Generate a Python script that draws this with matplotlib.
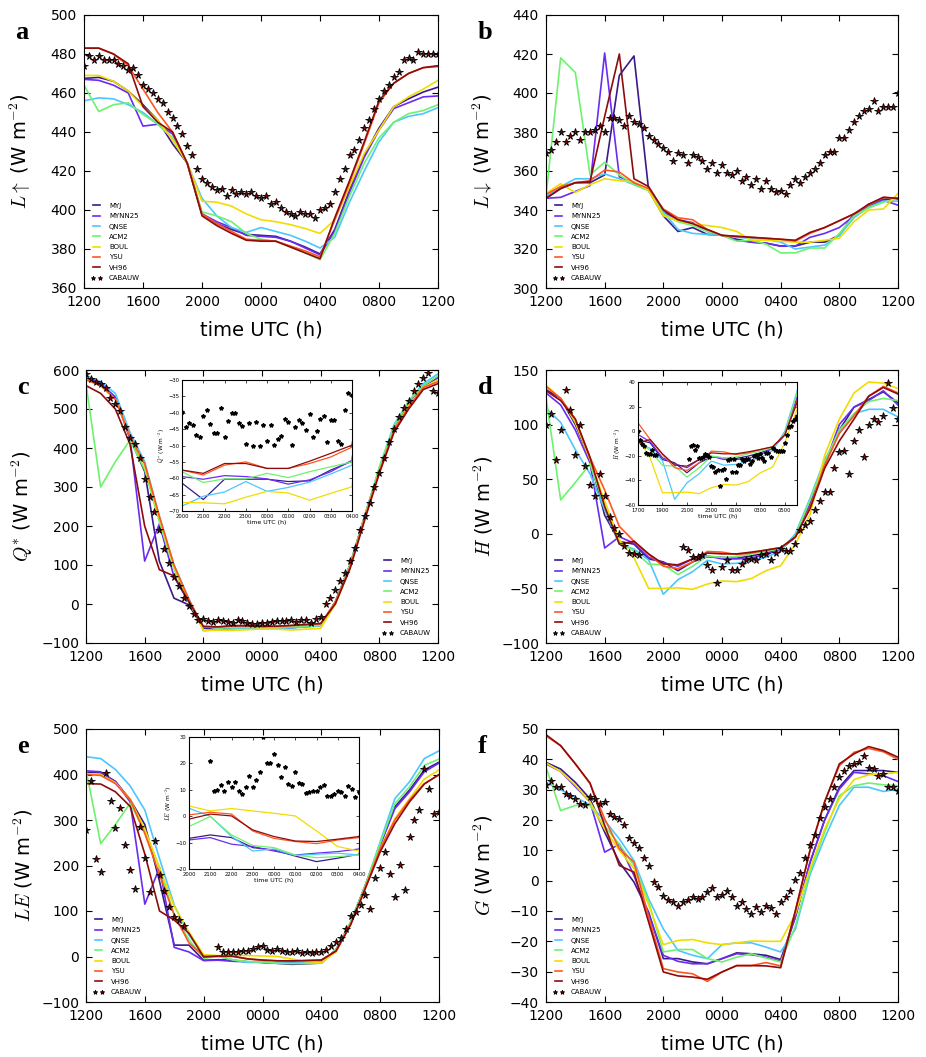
import numpy as np
import matplotlib
matplotlib.use('Agg')
import matplotlib.pyplot as plt

plt.rcParams['font.family'] = ['DejaVu Sans']
plt.rcParams['mathtext.fontset'] = 'cm'

nan = np.nan

models = ['MYJ', 'MYNN25', 'QNSE', 'ACM2', 'BOUL', 'YSU', 'VH96']
colors = ['#3a1a8a', '#6a2cf2', '#4cc6ff', '#6ef26e', '#f2dc00', '#ff5522', '#8c0c0c']

# hours since 1200 UTC; models hourly, obs every 20 min, insets every 10 min
t_model = np.arange(25)
t_obs = np.arange(73) / 3.0
t_in_cd = 8 + np.arange(49) / 6.0
t_in_d = 5 + np.arange(79) / 6.0

main_ticks = [0, 4, 8, 12, 16, 20, 24]
main_ticklabels = ['1200', '1600', '2000', '0000', '0400', '0800', '1200']

# ---- a: upward longwave
lup_myj = [467.5, 468, 466, 461, 454, 446, 434, 424, 398, 393, 390, 387.5, 387, 386.5, 384, 381, 377.5, 390, 410, 428, 442, 453, 457, 460.5, 463]
lup_mynn = [467, 466.5, 464, 460, 443, 444, 439, 424, 398, 394, 391, 387, 386.5, 386, 384, 380.5, 377, 389, 409, 427, 441, 452, 455, 458, 458.5]
lup_qnse = [456, 457.5, 457, 454, 450, 444, 437, 424, 406, 397, 391, 388.5, 391, 389, 387, 384, 380.5, 386, 404, 420, 435, 445, 448, 449.4, 452.5]
lup_acm2 = [464, 450.5, 454, 455, 449, 444, 437, 424, 399, 397, 394, 388, 385, 384, 381, 378, 374.5, 388, 407, 424, 437, 445, 449.4, 451, 454]
lup_boul = [469, 469, 466, 461, 453, 446, 436, 424, 404.5, 404, 402, 398, 395, 394, 392.5, 390.5, 388, 395, 412, 429, 441, 453, 458, 462, 466.5]
lup_ysu = [483, 483, 480, 474, 462, 450, 440, 424, 398, 393, 389, 385, 384.5, 384, 381.5, 379, 376, 395, 414, 434, 455, 465, 470, 473, 473.5]
lup_vh96 = [483, 483, 480, 475, 453, 445, 440, 424, 397, 392, 388, 384.5, 384, 384, 381, 378, 375, 396, 415, 435, 456, 465, 470, 473, 474]
lup_obs = [474, 479, 477, 479, 477, 477, 477, 475, 474, 472, 473, 469, 464, 462, 460, 457, 455, 450, 447, 443,
           439, 433, 428, 421, 416, 414, 412, 410, 411, 407, 410, 408, 409, 408, 409, 407, 406, 407, 403, 404,
           401, 399, 398, 397, 399, 398, 398, 396, 400, 401, 403, 409, 416, 421, 428, 431, 436, 442, 446, 452,
           457, 461, 464, 468, 471, 477, 478, 477, 481, 480, 480, 480, 480]

# ---- b: downward longwave
ldn_myj = [346, 351, 354, 354, 358, 409, 419, 350, 337, 329, 331, 327.5, 327, 325, 323.5, 323, 321.5, 321.5, 323.5, 323.5, 327, 338, 342, 345.5, 345.5]
ldn_mynn = [346, 346.5, 349.5, 352.5, 420.5, 357, 354, 350, 339, 335, 333.5, 329, 327, 324.5, 323.5, 323, 321.5, 321.5, 326, 328, 331, 337, 343, 345, 342.5]
ldn_qnse = [347, 352, 356, 356, 358.5, 356, 353, 350, 339, 330, 328, 327.5, 327, 326, 325.5, 325, 323.5, 320, 321, 322, 327, 336, 341.5, 344.5, 344.5]
ldn_acm2 = [347, 418, 410.5, 358, 364.5, 358, 353, 350, 338, 334, 332, 329, 327, 324, 324.5, 322.5, 318, 318, 320.5, 320.5, 328, 337, 341, 344, 346]
ldn_boul = [348.5, 353.5, 349, 353, 356, 355, 354.5, 350, 337, 334.5, 333, 332, 331, 329, 324.5, 324.5, 324, 323.5, 323.5, 324.5, 325.5, 334, 340, 340.5, 348.5]
ldn_ysu = [348, 352, 354, 355, 360.5, 359.5, 354, 351, 340.5, 336, 335, 330, 327, 326.5, 326, 325.5, 325, 324, 328, 331, 334.5, 338, 342.5, 346.5, 346]
ldn_vh96 = [346, 351, 354, 354.5, 388, 420, 356, 352, 340, 335, 333, 330, 327, 326.5, 326, 325.5, 325, 324.5, 328.5, 331, 334.5, 338, 343, 346.5, 346]
ldn_obs = [369, 371, 375, 380, 375, 378, 380, 376, 380, 380, 381, 383, 380, 387, 387, 386, 383, 388, 385, 384,
           382, 378, 376, 374, 372, 370, 365, 369, 368, 364, 368, 367, 365, 361, 364, 359, 363, 359, 358, 360,
           355, 357, 353, 356, 351, 355, 351, 349, 350, 348, 353, 356, 354, 357, 359, 361, 364, 368, 370, 370,
           377, 377, 381, 385, 388, 391, 392, 396, 391, 393, 393, 393, 400]

# ---- c: net radiation
qs_myj = [585, 565, 530, 425, 340, 110, 15, -2, -61.5, -66.5, -60.3, -60.3, -60.3, -61, -60.8, -57.5, -54.8, 5, 100, 225, 345, 450, 515, 560, 580]
qs_mynn = [580, 565, 530, 425, 110, 205, 70, 5, -59.5, -60.3, -59.2, -59.5, -60.2, -61.8, -60.5, -58, -54.5, 5, 100, 225, 345, 450, 515, 560, 580]
qs_qnse = [585, 570, 540, 440, 365, 225, 100, 15, -68.5, -65.5, -64.2, -61, -64, -62.8, -61.2, -58.7, -56, 5, 100, 225, 350, 460, 520, 565, 590]
qs_acm2 = [565, 300, 365, 420, 345, 210, 90, 5, -58, -61.3, -60.2, -60.2, -58.5, -59.8, -58, -56.5, -55, 5, 100, 225, 350, 455, 520, 560, 585]
qs_boul = [575, 560, 525, 430, 355, 220, 95, 10, -67.4, -67.5, -67.8, -65.8, -64, -64.5, -66.7, -64.6, -62.6, 0, 95, 220, 340, 445, 510, 555, 575]
qs_ysu = [575, 560, 525, 430, 360, 225, 100, 12, -57.5, -59, -56, -55, -57, -57, -55.5, -53.5, -50.5, 5, 95, 220, 340, 445, 505, 555, 570]
qs_vh96 = [560, 540, 500, 410, 200, 88, 72, 7, -57.5, -58.5, -55.5, -55.5, -57, -57, -54.8, -52.4, -49.9, 0, 90, 215, 335, 440, 500, 550, 565]
qs_obs = [590, 578, 570, 565, 555, 527, 512, 495, 455, 425, 410, 375, 320, 275, 235, 190, 140, 105, 70, 45, 15, -5, -25, -42,
          -39.7, -43.1, -46.9, -41.0, -43.3, -46.1, -47.5, -40.0, -43.2, -49.5, -50.1, -50.1, -48.5, -49.9, -47.2, -42.8,
          -44.3, -43.1, -40.5, -45.6, -41.1, -42.3, -48.7, -39.2, -34.5,
          0, 15, 37, 58, 80, 110, 144, 190, 225, 260, 300, 335, 375, 415, 450, 480, 503, 520, 545, 565, 580, 593, 546, 542]
qs_obs_inset = [-39.7, -44.3, -43.1, -43.8, -46.9, -47.5, -41.0, -39.3, -43.3, -46.3, -46.1, -38.7, -47.5, -42.6, -40.0,
                -40.0, -43.2, -44.1, -49.5, -43.1, -50.1, -42.9, -50.1, -43.7, -48.5, -43.7, -49.9, -47.9, -47.2, -41.8,
                -42.8, -49.8, -44.3, -42.3, -43.1, -45.3, -40.5, -47.4, -45.6, -41.8, -41.1, -48.9, -42.3, -42.3, -48.7,
                -49.4, -39.2, -33.9, -34.5]

# ---- d: sensible heat flux
h_myj = [132, 124, 100, 68, 17, -7, -9.5, -23, -25.7, -33.8, -25.7, -21, -21.6, -22.2, -20.3, -17.6, -14, -3, 25.7, 63, 95, 116, 123, 130, 120]
h_mynn = [129, 118, 95, 65, -13, -2.7, -8.6, -21.6, -26.5, -29.7, -23, -20.3, -23, -23, -22.2, -19, -14, -3, 27.6, 63, 100, 116, 122, 131, 118]
h_qnse = [115, 102, 77, 55, 22, -9.5, -14, -24, -55.4, -42, -34.6, -24.3, -27.6, -27, -24.3, -21.6, -15.7, 0, 32.4, 68, 92, 110, 114, 114, 107]
h_acm2 = [125, 31, 47, 64, 25, -8, -15.7, -27.8, -28.4, -37.3, -29.7, -20.3, -21.6, -21, -18.4, -16.2, -13.5, -2, 31, 66, 95, 110, 121, 124, 122]
h_boul = [136, 124, 102, 68, 30, -5.4, -22, -50, -50, -49.5, -50.8, -46, -43.2, -43.8, -41, -33.8, -29.2, -9.5, 17.6, 72, 105, 129, 139, 138, 133]
h_ysu = [135, 124, 105, 70, 40, 6.8, -6.8, -19, -29.7, -31.9, -25.7, -16.2, -16.8, -19, -17.6, -14.9, -12.7, -3, 24.3, 63, 92, 108, 126, 135, 129]
h_vh96 = [131, 122, 105, 70, 25, -9.5, -6.8, -18.4, -27.6, -28.4, -23, -17.6, -18.4, -18.4, -16.8, -14.9, -12.7, -3, 23, 60, 85, 105, 126, 134, 128]
h_obs = [100, 110, 68, 95, 132, 113, 72, 100, 62, 45, 35, 55, 35, 15, 5,
         0, -10.8, -17.6, -18.4, -19,
         nan, nan, nan, nan, nan, nan, nan, nan,
         -12.2, -14.9, -21.6, -20.8, -19.5, -28.4, -33, -44.6, -30.5, -23.8, -33, -33.2, -27.6, -24.3, -23,
         -24.3, -19, -18.4, -24.3, -17.6, -13.5,
         -16.2, -15.7, -9.5, 3.2, 8, 12, 22, 30, 38, 38, 60, 75, 76, 55, 85, 95, 70, 100, 105, 102, 108, 138, 115, 105]
h_obs_inset = [0, -6.8, -10.8, -12.2, -17.6, -18.4, -18.4, -14.9, -19, -19,
               nan, nan, nan, nan, nan, nan, nan, nan, nan, nan, nan, nan, nan, nan, nan,
               -22.2, -12.2, -11.6, -14.9, -12.2, -21.6, -21.6, -20.8, -18.4, -19.5, -21, -28.4, -29, -33, -31.4,
               -44.6, -31.4, -30.5, -39.2, -23.8, -23, -33, -23, -33.2, -27.8, -27.6, -23, -24.3, -22.7, -23,
               -26.5, -24.3, -20.3, -19, -21.6, -18.4, -21.6, -24.3, -17.6, -17.6, -21, -13.5, -15.4, -16.2, -15.7,
               -15.7, -15.7, -9.5, -3.2, 3.2, 4, 8, 10.3, 12]

# ---- e: latent heat flux
le_myj = [405, 404, 385, 345, 290, 165, 25, 25, -8.4, -7.1, -8.1, -11.9, -12.8, -15.1, -17.2, -15.9, -14.4, 15, 75, 157, 245, 329, 366, 410, 427]
le_mynn = [408, 406, 384, 340, 115, 195, 20, 10, -9, -8.1, -10.6, -11.5, -13.2, -14.7, -14, -13.4, -12.4, 15, 75, 157, 245, 325, 362, 406, 425]
le_qnse = [439, 435, 411, 375, 322, 215, 113, 47, 3, 0, -7.7, -13.2, -12.4, -14.9, -14.4, -14, -14.7, 14, 76, 157, 252, 347, 384, 435, 452]
le_acm2 = [410, 248, 290, 337, 275, 195, 91, 37, -3.9, -0.1, -7.1, -11.1, -11.9, -14.7, -15.7, -15.3, -14.7, 15, 76, 157, 248, 336, 373, 420, 434]
le_boul = [402, 400, 382, 345, 280, 195, 110, 54, 3.9, 2, 2.9, 2, 1.1, 0.1, -5.6, -11.5, -13.2, 10, 72, 153, 237, 303, 347, 390, 410]
le_ysu = [400, 398, 380, 345, 270, 180, 91, 30, 0.5, 1.5, 0.8, -5.6, -8.4, -9.6, -10.4, -9, -8.1, 12, 72, 153, 237, 300, 344, 380, 399]
le_vh96 = [380, 379, 362, 330, 225, 100, 80, 51, -1.1, 0.8, 0.1, -5.2, -7.7, -9.4, -9.6, -8.7, -7.7, 12, 70, 150, 230, 292, 340, 379, 400]
le_obs = [278, 386, 214, 185, 403, 342, 282, 326, 245, 190, 148, 285, 216, 142, 254, 179, 144, 108, 87, 80, 66,
          nan, nan, nan, nan, nan, nan,
          20.9, 10, 9.7, 10.9, 9.4, 11, 11, 16.6, 20.3, 23.4, 14.8, 12.2, 16.6, 12.3, 9, 9.6, 11.9, 7.7, 9.7, 7.7, 10.3, 9,
          15, 24, 32, 40, 60, 90, 98, 113, 135, 105, 172, 194, 230, 182, 131, 202, 147, 263, 300, 322, 413, 369, 314, 318]
le_obs_inset = [nan, nan, nan, nan, nan, nan,
                20.9, 9.4, 10, 11.9, 9.7, 12.8, 10.9, 12.8, 9.4, 8.5, 11, 15.1, 11, 13.8, 16.6, 29.9, 20.3, 20.3,
                23.4, 19.5, 14.8, 18.5, 12.2, 11.6, 16.6, 12.4, 12.3, 8.7, 9, 9.6, 9.6, 10.9, 11.9, 7.7, 7.7, 8.5,
                9.7, 9, 7.7, 11.3, 10.3, 7.2, 9]

# ---- f: ground heat flux
g_myj = [39, 36.8, 32.4, 27, 16, 6.1, -0.5, -10.4, -25.7, -25.7, -26.8, -27.4, -25.7, -23.8, -24.1, -24.6, -26, -12, 6, 20, 30.8, 36.3, 36.3, 36.3, 35.7]
g_mynn = [38.5, 36, 31, 26, 9.4, 12, 1.7, -11, -24.6, -26.6, -27.4, -27.4, -25.7, -24.1, -24.4, -25.2, -26.6, -12, 6, 20, 30.2, 35.7, 35.2, 34.6, 32.7]
g_qnse = [32.4, 30, 27.5, 25, 19.8, 13.8, 6.6, -6, -15.9, -23, -24.6, -25.7, -21.1, -20.5, -20.5, -21.9, -23.5, -16, 2, 14, 24.8, 30.8, 30.8, 29.4, 30.2]
g_acm2 = [37.4, 23.1, 24.8, 24.8, 18, 12, 5, -7, -23.5, -22.7, -22.7, -25.7, -26.8, -25.2, -24.1, -25.5, -26.8, -15, 3, 16, 28, 31.3, 32.2, 31.6, 31.3]
g_boul = [38.8, 36, 31.5, 26, 17, 10, 4, -8, -21.1, -19.7, -19.4, -20.5, -21.1, -20.5, -19.9, -20, -20, -11, 4, 17, 27, 33.3, 34.9, 35.2, 35.7]
g_ysu = [47.7, 44.5, 38.5, 32, 20.4, 10.5, 6.1, -12, -29, -30.1, -30.7, -33.2, -30.1, -28, -28, -27, -28.1, -10, 10, 26, 37.9, 42.3, 43.6, 42.5, 40]
g_vh96 = [48.1, 44.5, 38.5, 32.2, 18.2, 5, 2.8, -13.7, -30.1, -31.4, -31.8, -32.5, -30.1, -28, -28, -28.1, -28.7, -10, 10, 26, 38.5, 41.8, 44.2, 42.9, 40.7]
g_obs = [31.6, 33, 31, 31, 28.5, 28, 27, 25.3, 24.8, 27.5, 27, 25.3, 26, 22, 21, 20.4, 18.5, 14, 12.5, 10.7,
         7.5, 5, -0.5, -2.2, -5, -6.5, -7.1, -8.2, -7, -6.5, -5.5, -6, -5.4, -3.8, -2.5, -5.4, -4.6, -3.5, -5.5, -8.2,
         -7, -9.3, -11, -8.7, -10.4, -8.2, -9, -10.9, -7, -5.5, -3.5, 0.1, 2.5, 7.5, 11.6, 15, 20.5, 24.2, 27, 30.8,
         34.1, 36, 37.9, 38.3, 39, 41, 37, 36.8, 34.6, 35.2, 31, 30.8, 29.7]

W, H = 926, 1057
fig = plt.figure(figsize=(W / 100, H / 100), dpi=100)


def rect(l, t, r, b):
    return [l / W, 1 - b / H, (r - l) / W, (b - t) / H]


def panel(box, letter, ylabel, ylim, ystep, series, obs, loc):
    ax = fig.add_axes(rect(*box))
    for name, col, y in zip(models, colors, series):
        ax.plot(t_model, y, color=col, lw=1.2, label=name)
    ax.plot(t_obs, obs, ls='none', marker='*', ms=5.5, mfc='#8b0000', mec='k',
            mew=0.6, label='CABAUW')
    ax.set_xlim(0, 24)
    ax.set_ylim(*ylim)
    ax.set_xticks(main_ticks)
    ax.set_xticklabels(main_ticklabels)
    ax.set_yticks(np.arange(ylim[0], ylim[1] + ystep / 2, ystep))
    ax.tick_params(direction='in', top=True, right=True, length=4, width=0.8,
                   labelsize=10, pad=5)
    ax.set_xlabel('time UTC (h)', fontsize=14)
    ax.set_ylabel(ylabel, fontsize=14)
    ax.yaxis.set_label_coords(-0.145, 0.5)
    ax.xaxis.set_label_coords(0.5, -0.12)
    ax.legend(loc=loc, frameon=False, fontsize=5, numpoints=2, handlelength=1.6,
              handletextpad=1.0, labelspacing=0.62, borderaxespad=0.6,
              markerscale=0.6)
    fig.text(box[0] / W - 0.074, 1 - (box[1] + 6) / H, letter, fontsize=19,
             fontweight='bold', family='Liberation Serif', ha='left', va='top')
    return ax


def inset(box, xlim, xticks, xticklabels, ylim, ystep, series, t_in, obs_in, ylabel):
    ax = fig.add_axes(rect(*box))
    for col, y in zip(colors, series):
        ax.plot(t_model, y, color=col, lw=0.9)
    ax.plot(t_in, obs_in, ls='none', marker='*', ms=3, color='k')
    ax.set_xlim(*xlim)
    ax.set_ylim(*ylim)
    ax.set_xticks(xticks)
    ax.set_xticklabels(xticklabels)
    ax.set_yticks(np.arange(ylim[0], ylim[1] + ystep / 2, ystep))
    ax.tick_params(direction='in', top=True, right=True, length=2, width=0.5,
                   labelsize=3.8, pad=2)
    ax.set_xlabel('time UTC (h)', fontsize=4.5, labelpad=1)
    ax.set_ylabel(ylabel, fontsize=4.2, labelpad=1)
    for s in ax.spines.values():
        s.set_linewidth(0.8)
    return ax


unit = r' (W m$^{-2}$)'
panel((84, 15, 438, 288), 'a', r'$L\uparrow$' + unit, (360, 500), 20,
      [lup_myj, lup_mynn, lup_qnse, lup_acm2, lup_boul, lup_ysu, lup_vh96], lup_obs, 'lower left')
panel((546, 15, 898, 288), 'b', r'$L\downarrow$' + unit, (300, 440), 20,
      [ldn_myj, ldn_mynn, ldn_qnse, ldn_acm2, ldn_boul, ldn_ysu, ldn_vh96], ldn_obs, 'lower left')
panel((86, 370, 438, 643), 'c', r'$Q^{*}$' + unit, (-100, 600), 100,
      [qs_myj, qs_mynn, qs_qnse, qs_acm2, qs_boul, qs_ysu, qs_vh96], qs_obs, 'lower right')
panel((546, 370, 898, 643), 'd', r'$H$' + unit, (-100, 150), 50,
      [h_myj, h_mynn, h_qnse, h_acm2, h_boul, h_ysu, h_vh96], h_obs, 'lower left')
panel((86, 729, 439, 1002), 'e', r'$LE$' + unit, (-100, 500), 100,
      [le_myj, le_mynn, le_qnse, le_acm2, le_boul, le_ysu, le_vh96], le_obs, 'lower left')
panel((546, 729, 898, 1002), 'f', r'$G$' + unit, (-40, 50), 10,
      [g_myj, g_mynn, g_qnse, g_acm2, g_boul, g_ysu, g_vh96], g_obs, 'lower left')

night_ticks = list(range(8, 17))
night_labels = ['2000', '2100', '2200', '2300', '0000', '0100', '0200', '0300', '0400']
inset((182, 380, 352, 511), (8, 16), night_ticks, night_labels, (-70, -30), 5,
      [qs_myj, qs_mynn, qs_qnse, qs_acm2, qs_boul, qs_ysu, qs_vh96], t_in_cd, qs_obs_inset,
      r'$Q^{*}$' + unit)
inset((638, 382, 797, 505), (5, 18), list(range(5, 18, 2)),
      ['1700', '1900', '2100', '2300', '0100', '0300', '0500'], (-60, 40), 20,
      [h_myj, h_mynn, h_qnse, h_acm2, h_boul, h_ysu, h_vh96], t_in_d, h_obs_inset,
      r'$H$' + unit)
inset((189, 737, 359, 869), (8, 16), night_ticks, night_labels, (-20, 30), 10,
      [le_myj, le_mynn, le_qnse, le_acm2, le_boul, le_ysu, le_vh96], t_in_cd, le_obs_inset,
      r'$LE$' + unit)

fig.savefig('out.png', dpi=100)
